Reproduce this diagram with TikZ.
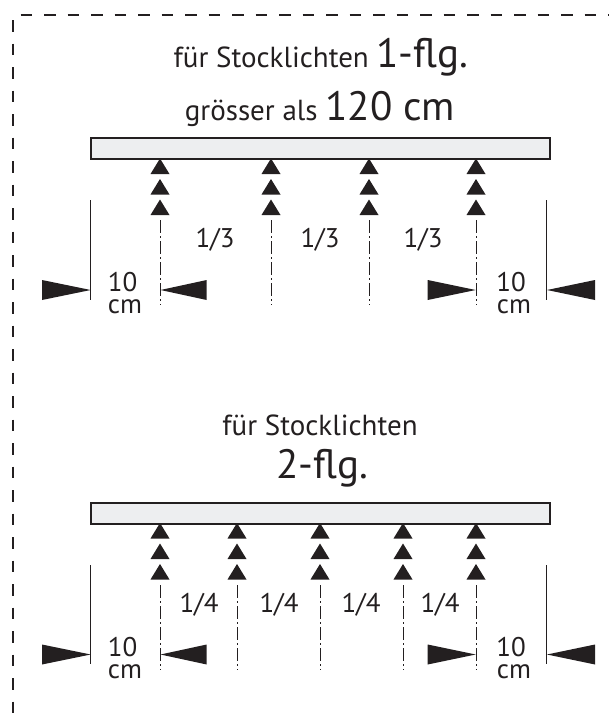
\documentclass[tikz,border=0pt]{standalone}
\usepackage{fontspec}
\setmainfont{PT Sans}
\definecolor{ink}{HTML}{231F20}
\definecolor{barfill}{HTML}{EDEEF0}
\tikzset{
  bar/.style={draw=ink, line width=2pt, fill=barfill, rectangle, minimum width=459pt, minimum height=21pt, inner sep=0pt, anchor=north west},
  axisline/.style={draw=ink, line width=1pt, dash pattern=on 13pt off 3pt on 1.5pt off 3.5pt},
  dimline/.style={draw=ink, line width=1.2pt},
  border/.style={draw=ink, line width=2pt, dash pattern=on 11.5pt off 12pt},
  lbl/.style={text=ink, inner sep=0pt, anchor=base, font=\fontsize{27}{27}\selectfont},
  ttl/.style={text=ink, inner sep=0pt, anchor=base},
}
\newcommand{\smtxt}{\fontsize{29}{29}\selectfont}
\newcommand{\lgtxt}{\fontsize{41}{41}\selectfont}
% three stacked triangles below point (x, y)
\newcommand{\tristack}[2]{%
  \foreach \k in {0,1,2}{%
    \fill[ink] (#1,#2+\k*20.5) -- (#1+9.5,#2+\k*20.5+15.5) -- (#1-9.5,#2+\k*20.5+15.5) -- cycle;}}
\begin{document}
\begin{tikzpicture}[x=1pt,y=-1pt]
\useasboundingbox (0,0) rectangle (609,718);
% border
\coordinate (bt1) at (20.7,15); \coordinate (bt2) at (609,15);
\coordinate (bl1) at (12.7,20); \coordinate (bl2) at (12.7,718);
\draw[border] (bt1) -- (bt2);
\draw[border] (bl1) -- (bl2);

% ---------- upper part ----------
\node[ttl] (t1) at (321,67) {\smtxt für Stocklichten {\lgtxt 1-flg.}};
\node[ttl] (t2) at (320,120) {\smtxt grösser als {\lgtxt 120 cm}};
\node[bar] (bar1) at (90,137) {};
\foreach \x/\n in {160/a,271/b,369/c,476/d}{
  \tristack{\x}{158.5}
  \coordinate (u\n1) at (\x,220);
  \coordinate (u\n2) at (\x,305);
  \draw[axisline] (u\n1) -- (u\n2);
}
\node[lbl] (q1) at (215,247) {1/3};
\node[lbl] (q2) at (320,247) {1/3};
\node[lbl] (q3) at (423,247) {1/3};
% dimension lines
\coordinate (ul1) at (90.7,200); \coordinate (ul2) at (90.7,300);
\coordinate (ur1) at (546.5,200); \coordinate (ur2) at (546.5,300);
\draw[dimline] (ul1) -- (ul2);
\draw[dimline] (ur1) -- (ur2);
\fill[ink] (42,280) -- (90.7,290) -- (42,300) -- cycle;
\fill[ink] (206.7,280) -- (160.5,290) -- (206.7,300) -- cycle;
\fill[ink] (427.7,280) -- (475.7,290) -- (427.7,300) -- cycle;
\fill[ink] (595,280) -- (547,290) -- (595,300) -- cycle;
\node[lbl] (ua) at (122.5,291) {10};
\node[lbl] (ub) at (125,313) {cm};
\node[lbl] (uc) at (511,291) {10};
\node[lbl] (ud) at (514,313) {cm};

% ---------- lower part ----------
\node[ttl] (t3) at (320,435) {\smtxt für Stocklichten};
\node[ttl] (t4) at (322,478) {\lgtxt 2-flg.};
\node[bar] (bar2) at (90,501.5) {};
\foreach \x/\n in {160/a,237/b,320/c,403/d,476/e}{
  \tristack{\x}{523}
  \coordinate (l\n1) at (\x,585);
  \coordinate (l\n2) at (\x,670);
  \draw[axisline] (l\n1) -- (l\n2);
}
\node[lbl] (r1) at (199,612) {1/4};
\node[lbl] (r2) at (279,612) {1/4};
\node[lbl] (r3) at (361,612) {1/4};
\node[lbl] (r4) at (440,612) {1/4};
\coordinate (ll1) at (90.7,565); \coordinate (ll2) at (90.7,664);
\coordinate (lr1) at (546.5,565); \coordinate (lr2) at (546.5,664);
\draw[dimline] (ll1) -- (ll2);
\draw[dimline] (lr1) -- (lr2);
\fill[ink] (42,644.5) -- (90.7,654.5) -- (42,664.5) -- cycle;
\fill[ink] (206.7,644.5) -- (160.5,654.5) -- (206.7,664.5) -- cycle;
\fill[ink] (427.7,644.5) -- (475.7,654.5) -- (427.7,664.5) -- cycle;
\fill[ink] (595,644.5) -- (547,654.5) -- (595,664.5) -- cycle;
\node[lbl] (la) at (122.5,656) {10};
\node[lbl] (lb) at (125,678) {cm};
\node[lbl] (lc) at (511,656) {10};
\node[lbl] (ld) at (514,678) {cm};
\end{tikzpicture}
\end{document}
